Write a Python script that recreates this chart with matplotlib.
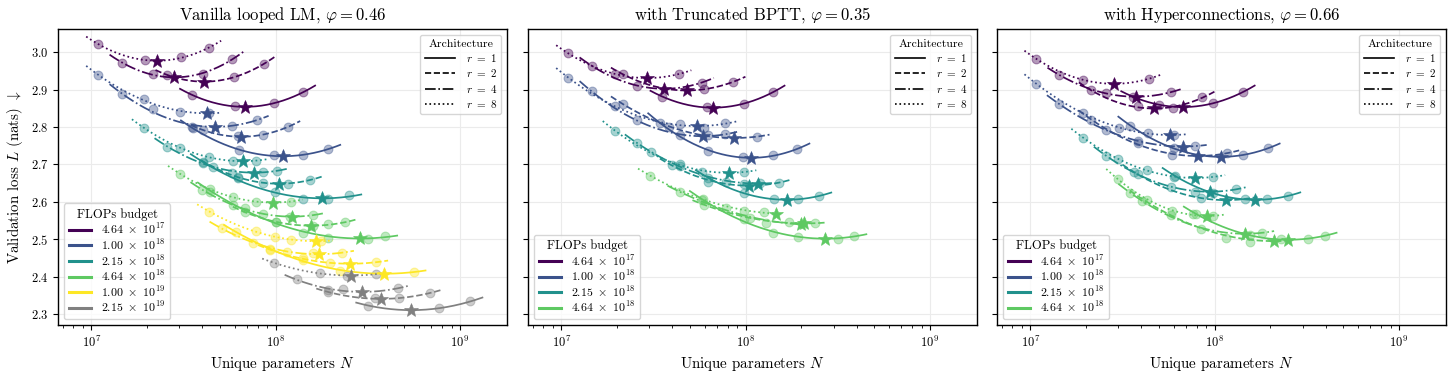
import numpy as np
import matplotlib
matplotlib.use('Agg')
import matplotlib.pyplot as plt
from matplotlib.lines import Line2D

plt.rcParams.update({
    'font.family': 'serif',
    'font.serif': ['cmr10'],
    'mathtext.fontset': 'cm',
    'axes.formatter.use_mathtext': True,
    'axes.unicode_minus': False,
})

# ---------------- labels / styling data ----------------
titles = [r'Vanilla looped LM, $\varphi = 0.46$',
          r'with Truncated BPTT, $\varphi = 0.35$',
          r'with Hyperconnections, $\varphi = 0.66$']
budget_labels = [r'$4.64\ \times\ 10^{17}$', r'$1.00\ \times\ 10^{18}$', r'$2.15\ \times\ 10^{18}$',
                 r'$4.64\ \times\ 10^{18}$', r'$1.00\ \times\ 10^{19}$', r'$2.15\ \times\ 10^{19}$']
budget_colors = ['#440154', '#3b528b', '#21918c', '#5ec962', '#fde725', '#808080']
r_values = [1, 2, 4, 8]
r_styles = {1: '-', 2: '--', 4: '-.', 8: ':'}
yticks = [2.3, 2.4, 2.5, 2.6, 2.7, 2.8, 2.9, 3.0]

# ---------------- data: {r: (N, L)} ----------------
# Panel 1: vanilla looped LM
van_464e17 = {
    8: ([1.09e7, 1.95e7, 3.05e7, 4.36e7], [3.022, 2.978, 2.986, 3.012]),
    4: ([1.46e7, 2.16e7, 4.05e7, 5.77e7], [2.972, 2.942, 2.942, 2.981]),
    2: ([2.59e7, 5.93e7, 8.65e7], [2.939, 2.933, 2.969]),
    1: ([3.52e7, 6.01e7, 9.82e7, 1.41e8], [2.886, 2.855, 2.864, 2.893]),
}
van_100e18 = {
    8: ([1.09e7, 1.93e7, 3.03e7, 4.36e7], [2.939, 2.874, 2.840, 2.838]),
    4: ([1.46e7, 2.15e7, 3.54e7, 5.77e7, 7.89e7], [2.887, 2.848, 2.800, 2.804, 2.819]),
    2: ([4.03e7, 6.27e7, 8.57e7, 1.17e8], [2.792, 2.775, 2.779, 2.801]),
    1: ([3.56e7, 6.32e7, 9.82e7, 1.41e8, 1.93e8], [2.797, 2.738, 2.725, 2.725, 2.741]),
}
van_215e18 = {
    8: ([1.93e7, 3.02e7, 4.36e7, 5.89e7, 7.78e7], [2.798, 2.745, 2.719, 2.710, 2.710]),
    4: ([2.56e7, 4.05e7, 5.83e7, 8.57e7, 1.02e8], [2.748, 2.707, 2.677, 2.681, 2.683]),
    2: ([4.57e7, 6.27e7, 8.57e7, 1.17e8, 1.53e8], [2.693, 2.667, 2.651, 2.648, 2.659]),
    1: ([4.03e7, 6.27e7, 9.91e7, 1.40e8, 1.93e8, 2.51e8], [2.704, 2.663, 2.627, 2.607, 2.607, 2.618]),
}
van_464e18 = {
    8: ([3.03e7, 4.40e7, 5.89e7, 7.78e7, 1.21e8], [2.675, 2.634, 2.612, 2.601, 2.601]),
    4: ([4.01e7, 5.89e7, 8.57e7, 1.19e8, 1.60e8], [2.632, 2.592, 2.568, 2.560, 2.565]),
    2: ([6.81e7, 1.01e8, 1.60e8, 1.93e8, 2.38e8], [2.573, 2.546, 2.536, 2.540, 2.545]),
    1: ([4.40e7, 6.81e7, 1.01e8, 1.41e8, 1.93e8, 3.16e8, 3.93e8],
        [2.626, 2.584, 2.546, 2.517, 2.504, 2.501, 2.509]),
}
van_100e19 = {
    8: ([4.36e7, 7.82e7, 9.95e7, 1.21e8, 1.76e8], [2.574, 2.523, 2.505, 2.498, 2.496]),
    4: ([5.09e7, 7.55e7, 1.15e8, 1.60e8, 2.29e8], [2.530, 2.490, 2.467, 2.463, 2.463]),
    2: ([9.33e7, 1.41e8, 1.97e8, 3.51e8], [2.472, 2.449, 2.436, 2.439]),
    1: ([6.10e7, 9.33e7, 1.41e8, 2.23e8, 5.60e8], [2.519, 2.474, 2.445, 2.415, 2.413]),
}
van_215e19 = {
    8: ([9.82e7, 1.74e8, 2.43e8, 3.51e8], [2.437, 2.409, 2.403, 2.407]),
    4: ([1.30e8, 1.93e8, 2.31e8, 4.63e8], [2.393, 2.364, 2.366, 2.369]),
    2: ([1.93e8, 3.44e8, 4.70e8, 6.90e8], [2.359, 2.342, 2.342, 2.357]),
    1: ([3.18e8, 7.74e8, 1.14e9], [2.323, 2.316, 2.334]),
}

# Panel 2: with truncated BPTT
tbptt_464e17 = {
    8: ([1.09e7, 1.95e7, 4.37e7], [2.997, 2.942, 2.942]),
    4: ([1.46e7, 2.57e7, 5.79e7], [2.964, 2.911, 2.919]),
    2: ([2.16e7, 5.96e7, 8.59e7], [2.941, 2.901, 2.921]),
    1: ([3.54e7, 6.21e7, 9.86e7, 1.40e8], [2.881, 2.853, 2.862, 2.893]),
}
tbptt_100e18 = {
    8: ([1.09e7, 1.95e7, 4.38e7, 5.98e7, 7.74e7], [2.932, 2.856, 2.808, 2.797, 2.812]),
    4: ([1.46e7, 2.57e7, 4.42e7, 7.74e7], [2.895, 2.819, 2.779, 2.781]),
    2: ([2.16e7, 3.82e7, 6.24e7, 1.16e8], [2.862, 2.800, 2.778, 2.774]),
    1: ([3.44e7, 6.28e7, 9.72e7, 1.40e8, 1.91e8], [2.811, 2.737, 2.719, 2.724, 2.741]),
}
tbptt_215e18 = {
    8: ([1.95e7, 3.06e7, 4.38e7, 5.79e7, 9.84e7], [2.790, 2.732, 2.701, 2.680, 2.681]),
    4: ([2.57e7, 4.42e7, 7.83e7, 1.20e8], [2.757, 2.696, 2.654, 2.650]),
    2: ([3.98e7, 6.28e7, 9.84e7, 1.52e8], [2.699, 2.654, 2.648, 2.650]),
    1: ([6.24e7, 9.84e7, 1.42e8, 1.92e8, 2.51e8], [2.665, 2.623, 2.607, 2.607, 2.616]),
}
tbptt_464e18 = {
    8: ([3.03e7, 5.86e7, 9.84e7, 1.26e8], [2.670, 2.608, 2.576, 2.572]),
    4: ([4.38e7, 7.80e7, 1.29e8, 1.72e8], [2.626, 2.583, 2.544, 2.546]),
    2: ([5.98e7, 1.06e8, 2.38e8], [2.592, 2.557, 2.543]),
    1: ([5.79e7, 9.84e7, 1.40e8, 1.92e8, 3.16e8, 3.89e8], [2.605, 2.554, 2.518, 2.505, 2.501, 2.510]),
}

# Panel 3: with hyperconnections
hyper_464e17 = {
    8: ([1.08e7, 1.94e7, 4.40e7], [2.982, 2.926, 2.929]),
    4: ([1.44e7, 2.57e7, 5.77e7], [2.939, 2.890, 2.893]),
    2: ([2.13e7, 3.83e7, 5.94e7, 8.59e7], [2.898, 2.856, 2.850, 2.880]),
    1: ([3.62e7, 5.02e7, 9.82e7, 1.42e8], [2.881, 2.859, 2.864, 2.893]),
}
hyper_100e18 = {
    8: ([1.08e7, 1.94e7, 3.04e7, 4.34e7, 6.01e7], [2.915, 2.838, 2.797, 2.783, 2.779]),
    4: ([1.43e7, 2.57e7, 3.83e7, 7.80e7], [2.862, 2.792, 2.763, 2.749]),
    2: ([2.13e7, 3.83e7, 5.89e7, 1.17e8], [2.820, 2.757, 2.725, 2.731]),
    1: ([3.49e7, 6.01e7, 1.42e8, 1.94e8], [2.804, 2.743, 2.725, 2.743]),
}
hyper_215e18 = {
    8: ([1.94e7, 3.00e7, 4.32e7, 6.01e7, 9.82e7], [2.771, 2.715, 2.684, 2.667, 2.667]),
    4: ([2.57e7, 3.83e7, 5.82e7, 7.80e7, 1.30e8], [2.723, 2.675, 2.641, 2.627, 2.634]),
    2: ([3.67e7, 8.49e7, 1.47e8], [2.679, 2.610, 2.608]),
    1: ([6.07e7, 9.82e7, 1.92e8, 2.51e8], [2.670, 2.623, 2.607, 2.616]),
}
hyper_464e18 = {
    8: ([3.00e7, 4.29e7, 7.64e7, 9.75e7], [2.661, 2.605, 2.568, 2.561]),
    4: ([3.49e7, 5.82e7, 8.49e7, 1.81e8], [2.623, 2.564, 2.527, 2.518]),
    2: ([4.02e7, 5.85e7, 1.16e8, 1.55e8, 2.28e8], [2.602, 2.576, 2.504, 2.494, 2.500]),
    1: ([7.91e7, 1.56e8, 3.21e8, 3.95e8], [2.568, 2.511, 2.501, 2.510]),
}

panels = [
    [van_464e17, van_100e18, van_215e18, van_464e18, van_100e19, van_215e19],
    [tbptt_464e17, tbptt_100e18, tbptt_215e18, tbptt_464e18],
    [hyper_464e17, hyper_100e18, hyper_215e18, hyper_464e18],
]

# ---------------- figure ----------------
W, H = 1456, 376
fig = plt.figure(figsize=(W / 100, H / 100), dpi=100)
lefts = [58, 528, 997]
ax_w, ax_top, ax_bot = 449, 29, 325

ext = 0.065  # decades the fitted curve extends past the data
for pi, (left, series) in enumerate(zip(lefts, panels)):
    ax = fig.add_axes([left / W, 1 - ax_bot / H, ax_w / W, (ax_bot - ax_top) / H])
    ax.set_xscale('log')
    ax.set_xlim(6.6e6, 1.8e9)
    ax.set_ylim(2.271, 3.062)
    ax.set_yticks(yticks)
    ax.grid(True, which='major', color='#ebebeb', lw=0.8, zorder=0)
    ax.set_axisbelow(True)
    for bi, data in enumerate(series):
        col = budget_colors[bi]
        for r in [8, 4, 2, 1]:
            N, L = data[r]
            x = np.log10(np.array(N))
            y = np.array(L)
            coef = np.polyfit(x, y, 2)
            xs = np.linspace(x.min() - ext, x.max() + ext, 200)
            ax.plot(10 ** xs, np.polyval(coef, xs), ls=r_styles[r], color=col, lw=1.25, zorder=3)
            ax.plot(N, L, 'o', color=col, alpha=0.4, ms=6.3, mew=0.8, zorder=2)
            xv = -coef[1] / (2 * coef[0])
            xv = np.clip(xv, xs.min(), xs.max())
            ax.plot([10 ** xv], [np.polyval(coef, xv)], marker='*', color=col, ms=10.5,
                    mew=0.4, zorder=4, ls='none')
    ax.set_title(titles[pi], fontsize=12, pad=7)
    ax.set_xlabel(r'Unique parameters $N$', fontsize=10.8)
    ax.tick_params(axis='both', labelsize=9)
    if pi == 0:
        ax.set_ylabel(r'Validation loss $L$ (nats) $\downarrow$', fontsize=10.8)
    else:
        ax.tick_params(axis='y', labelleft=False)
    for s in ax.spines.values():
        s.set_linewidth(1.0)

    arch_handles = [Line2D([], [], color='black', ls=r_styles[r], lw=1.2) for r in r_values]
    leg1 = ax.legend(arch_handles, [rf'$r\ =\ {r}$' for r in r_values], title='Architecture',
                     loc='upper right', fontsize=8, title_fontsize=8.5, handlelength=2.7,
                     labelspacing=0.3, borderpad=0.4, handletextpad=1.0)
    ax.add_artist(leg1)
    nb = len(series)
    flop_handles = [Line2D([], [], color=budget_colors[i], lw=2.2) for i in range(nb)]
    ax.legend(flop_handles, budget_labels[:nb], title='FLOPs budget', loc='lower left',
              fontsize=8.6, title_fontsize=9, handlelength=1.9, labelspacing=0.05,
              borderpad=0.4, handletextpad=0.8)

fig.savefig('out.png', dpi=100)
